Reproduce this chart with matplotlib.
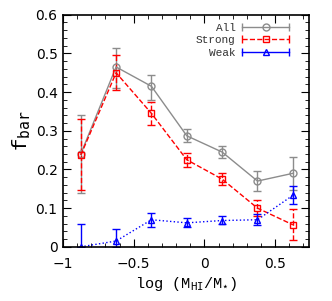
import matplotlib.pyplot as plt
import numpy as np
from matplotlib.ticker import MultipleLocator
from matplotlib.lines import Line2D
from matplotlib.legend_handler import HandlerBase

x = [-0.875, -0.625, -0.375, -0.125, 0.125, 0.375, 0.625]

all_y = [0.24, 0.465, 0.415, 0.287, 0.245, 0.170, 0.190]
all_lo = [0.138, 0.410, 0.380, 0.270, 0.230, 0.145, 0.148]
all_hi = [0.340, 0.515, 0.445, 0.305, 0.260, 0.195, 0.232]

strong_y = [0.237, 0.450, 0.345, 0.225, 0.175, 0.100, 0.057]
strong_lo = [0.147, 0.405, 0.315, 0.207, 0.160, 0.080, 0.018]
strong_hi = [0.330, 0.497, 0.375, 0.243, 0.190, 0.120, 0.097]

weak_y = [0.0, 0.015, 0.070, 0.062, 0.068, 0.070, 0.133]
weak_lo = [0.0, 0.0, 0.052, 0.050, 0.058, 0.057, 0.110]
weak_hi = [0.060, 0.047, 0.088, 0.074, 0.080, 0.085, 0.157]

labels = ['All', 'Strong', 'Weak']
colors = ['#8c8c8c', 'red', 'blue']
styles = ['-', '--', ':']
markers = ['o', 's', '^']


def err(y, lo, hi):
    y = np.array(y)
    return [y - np.array(lo), np.array(hi) - y]


class CapHandler(HandlerBase):
    # gnuplot style key: line with end caps and a marker in the middle
    def create_artists(self, legend, h, xd, yd, w, hgt, fs, trans):
        y = hgt / 2 - yd
        c = h.get_color()
        ls = '--' if h.get_linestyle() == '--' else '-'
        line = Line2D([-xd, w - xd], [y, y], color=c, ls=ls, lw=1)
        caps = Line2D([-xd, w - xd], [y, y], color=c, ls='none', marker='|',
                      ms=6, mew=1)
        mk = Line2D([w / 2 - xd], [y], color=c, ls='none', marker=h.get_marker(),
                    ms=5, mfc='none', mew=1)
        for a in (line, caps, mk):
            a.set_transform(trans)
        return [line, caps, mk]


fig = plt.figure(figsize=(3.32, 3.01), dpi=100)
ax = fig.add_axes([0.19, 0.18, 0.741, 0.771])

mono = 'Liberation Mono'

series = [(all_y, all_lo, all_hi), (strong_y, strong_lo, strong_hi),
          (weak_y, weak_lo, weak_hi)]
proxies = []
for (yv, lo, hi), lab, c, ls, m in zip(series, labels, colors, styles, markers):
    eb = ax.errorbar(x, yv, yerr=err(yv, lo, hi), color=c, lw=1, ls=ls,
                     marker=m, mfc='none', ms=5, mew=1, capsize=3, elinewidth=1)
    if ls == '--':
        eb[-1][0].set_linestyle('--')
    proxies.append(Line2D([], [], color=c, ls=ls, marker=m))

ax.set_xlim(-1, 0.74)
ax.set_ylim(0, 0.6)
ax.xaxis.set_minor_locator(MultipleLocator(0.1))
ax.yaxis.set_minor_locator(MultipleLocator(0.02))
ax.tick_params(which='both', direction='in', top=True, right=True, labelsize=10)
ax.tick_params(which='major', length=6)
ax.tick_params(which='minor', length=3)
ax.tick_params(axis='x', pad=7)
ax.tick_params(axis='y', pad=4)
ax.set_xticks([-1, -0.5, 0, 0.5])
ax.set_xticklabels(['\u22121', '\u22120.5', '0', '0.5'])
ax.set_yticks([0, 0.1, 0.2, 0.3, 0.4, 0.5, 0.6])
ax.set_yticklabels(['0', '0.1', '0.2', '0.3', '0.4', '0.5', '0.6'])
for s in ax.spines.values():
    s.set_linewidth(1.2)

ax.set_xlabel(r'log (M$_{\mathtt{HI}}$/M$_{\star}$)', family=mono, fontsize=11,
              labelpad=3)
ax.set_ylabel(r'f$_{\mathtt{bar}}$', family=mono, fontsize=15, labelpad=2)

leg = ax.legend(proxies, labels, loc='upper right', frameon=False,
                prop={'family': mono, 'size': 8}, markerfirst=False,
                handlelength=4.2, labelspacing=0.25, handletextpad=0.6,
                borderaxespad=0.3, bbox_to_anchor=(0.95, 1.0),
                handler_map={Line2D: CapHandler()})
for t in leg.get_texts():
    t.set_color('#333333')

plt.savefig('out.png')
